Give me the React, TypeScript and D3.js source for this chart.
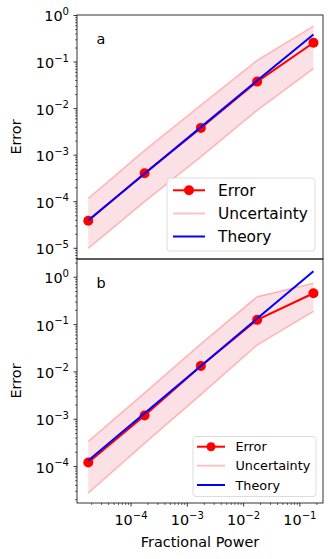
import React, { useEffect, useRef } from 'react';
import * as d3 from 'd3';

// fractional power (x) shared by both panels
const power = [1.74e-5, 1.74e-4, 1.74e-3, 1.74e-2, 0.174];

// panel a
const errorA = [3.9e-5, 4.1e-4, 3.85e-3, 3.8e-2, 0.26];
const upperA = [1.18e-4, 1.26e-3, 1.18e-2, 0.109, 0.59];
const lowerA = [1.0e-5, 1.0e-4, 9.2e-4, 9.2e-3, 0.072];
const theoryA = [4.0e-5, 4.0e-4, 4.0e-3, 4.0e-2, 0.39];

// panel b
const errorB = [1.22e-4, 1.2e-3, 1.34e-2, 0.126, 0.46];
const upperB = [3.4e-4, 3.6e-3, 3.9e-2, 0.39, 0.75];
const lowerB = [2.75e-5, 3.1e-4, 3.3e-3, 0.037, 0.19];
const theoryB = [1.34e-4, 1.34e-3, 1.34e-2, 0.134, 1.34];

const xTickExps = [-4, -3, -2, -1];
const yTickExpsA = [0, -1, -2, -3, -4, -5];
const yTickExpsB = [0, -1, -2, -3, -4];
const legendLabels = ['Error', 'Uncertainty', 'Theory'];

const W = 333;
const H = 559;
const FONT = '"DejaVu Sans", sans-serif';
const FS = 14.4;
const FILL = '#fbe1e6';
const BAND = 'rgba(255,0,0,0.24)';

const App = () => {
  const ref = useRef<SVGSVGElement>(null);

  useEffect(() => {
    const svg = d3.select(ref.current);
    svg.selectAll('*').remove();

    const left = 77;
    const right = 323;

    const x = d3.scaleLog().domain([10 ** -4.96, 10 ** -0.59]).range([left, right]);

    const panels = [
      {
        name: 'a', top: 15, bottom: 259, dom: [10 ** -5.23, 10 ** 0.01],
        err: errorA, up: upperA, lo: lowerA, th: theoryA, yTicks: yTickExpsA,
        showX: false,
        legend: { x: 167, y: 178, w: 148, h: 73, font: 15.4, r: 5, rows: [190.3, 213.5, 236.5], hx: [173, 205], tx: 218 },
      },
      {
        name: 'b', top: 259, bottom: 503, dom: [10 ** -4.77, 10 ** 0.386],
        err: errorB, up: upperB, lo: lowerB, th: theoryB, yTicks: yTickExpsB,
        showX: true,
        legend: { x: 193, y: 436.5, w: 123, h: 60, font: 12.8, r: 4.5, rows: [446.7, 465.7, 485], hx: [197, 225], tx: 235.5 },
      },
    ];

    const defs = svg.append('defs');

    panels.forEach((p, pi) => {
      const y = d3.scaleLog().domain(p.dom).range([p.bottom, p.top]);
      const g = svg.append('g');

      defs.append('clipPath').attr('id', `clip${pi}`)
        .append('rect')
        .attr('x', left).attr('y', p.top)
        .attr('width', right - left).attr('height', p.bottom - p.top);

      const plot = g.append('g').attr('clip-path', `url(#clip${pi})`);

      const area = d3.area<number>()
        .x((d, i) => x(power[i]))
        .y0((d, i) => y(p.lo[i]))
        .y1((d, i) => y(p.up[i]));

      const line = (vals: number[]) => d3.line<number>()
        .x((d, i) => x(power[i]))
        .y(d => y(d))(vals);

      plot.append('path').attr('d', area(power)).attr('fill', FILL);
      plot.append('path').attr('d', line(p.up)).attr('fill', 'none').attr('stroke', BAND).attr('stroke-width', 1.6);
      plot.append('path').attr('d', line(p.lo)).attr('fill', 'none').attr('stroke', BAND).attr('stroke-width', 1.6);

      plot.append('path').attr('d', line(p.err)).attr('fill', 'none').attr('stroke', 'red').attr('stroke-width', 2);
      plot.selectAll('.dot').data(p.err).enter().append('circle')
        .attr('cx', (d, i) => x(power[i]))
        .attr('cy', d => y(d))
        .attr('r', 5)
        .attr('fill', 'red');

      plot.append('path').attr('d', line(p.th)).attr('fill', 'none').attr('stroke', 'blue').attr('stroke-width', 2);

      // y ticks (major + minor)
      const [lo, hi] = p.dom;
      for (let e = Math.floor(Math.log10(lo)); e <= Math.ceil(Math.log10(hi)); e++) {
        for (let m = 1; m < 10; m++) {
          const v = m * 10 ** e;
          if (v < lo || v > hi) continue;
          const len = m === 1 ? 3.5 : 2;
          g.append('line')
            .attr('x1', left - len).attr('x2', left)
            .attr('y1', y(v)).attr('y2', y(v))
            .attr('stroke', 'black').attr('stroke-width', m === 1 ? 0.8 : 0.6);
        }
      }
      p.yTicks.forEach(e => {
        const t = g.append('text')
          .attr('x', left - 8).attr('y', y(10 ** e) + 6)
          .attr('text-anchor', 'end')
          .attr('font-family', FONT).attr('font-size', FS);
        t.append('tspan').text('10');
        t.append('tspan').attr('dy', -6.5).attr('font-size', FS * 0.7).text(e === 0 ? '0' : `\u2212${-e}`);
      });

      // x ticks only for bottom panel
      if (p.showX) {
        const [xl, xh] = x.domain();
        for (let e = Math.floor(Math.log10(xl)); e <= Math.ceil(Math.log10(xh)); e++) {
          for (let m = 1; m < 10; m++) {
            const v = m * 10 ** e;
            if (v < xl || v > xh) continue;
            const len = m === 1 ? 3.5 : 2;
            g.append('line')
              .attr('x1', x(v)).attr('x2', x(v))
              .attr('y1', p.bottom).attr('y2', p.bottom + len)
              .attr('stroke', 'black').attr('stroke-width', m === 1 ? 0.8 : 0.6);
          }
        }
        xTickExps.forEach(e => {
          const t = g.append('text')
            .attr('x', x(10 ** e)).attr('y', 525)
            .attr('text-anchor', 'middle')
            .attr('font-family', FONT).attr('font-size', FS);
          t.append('tspan').text('10');
          t.append('tspan').attr('dy', -6.5).attr('font-size', FS * 0.7).text(`\u2212${-e}`);
        });
        g.append('text')
          .attr('x', (left + right) / 2).attr('y', 546.5)
          .attr('text-anchor', 'middle')
          .attr('font-family', FONT).attr('font-size', FS)
          .text('Fractional Power');
      }

      // frame
      g.append('rect')
        .attr('x', left).attr('y', p.top)
        .attr('width', right - left).attr('height', p.bottom - p.top)
        .attr('fill', 'none').attr('stroke', 'black').attr('stroke-width', 0.8);

      // y label
      g.append('text')
        .attr('transform', `translate(20.5,${(p.top + p.bottom) / 2}) rotate(-90)`)
        .attr('text-anchor', 'middle')
        .attr('font-family', FONT).attr('font-size', FS)
        .text('Error');

      // panel letter
      g.append('text')
        .attr('x', 96.5).attr('y', p.top + 28.5)
        .attr('font-family', FONT).attr('font-size', FS)
        .text(p.name);

      // legend
      const L = p.legend;
      g.append('rect')
        .attr('x', L.x).attr('y', L.y).attr('width', L.w).attr('height', L.h)
        .attr('rx', 3)
        .attr('fill', 'white').attr('fill-opacity', 0.8)
        .attr('stroke', '#d4d4d4').attr('stroke-width', 0.8);
      const colors = ['red', BAND, 'blue'];
      legendLabels.forEach((lab, i) => {
        const ry = L.rows[i];
        g.append('line')
          .attr('x1', L.hx[0]).attr('x2', L.hx[1])
          .attr('y1', ry).attr('y2', ry)
          .attr('stroke', colors[i]).attr('stroke-width', 2);
        if (i === 0) {
          g.append('circle')
            .attr('cx', (L.hx[0] + L.hx[1]) / 2).attr('cy', ry)
            .attr('r', L.r).attr('fill', 'red');
        }
        g.append('text')
          .attr('x', L.tx).attr('y', ry + L.font * 0.36)
          .attr('font-family', FONT).attr('font-size', L.font)
          .text(lab);
      });
    });
  }, []);

  return (
    <svg
      ref={ref}
      width={W}
      height={H}
      style={{ position: 'absolute', left: 0, top: 0, background: 'white' }}
    />
  );
};

export default App;
